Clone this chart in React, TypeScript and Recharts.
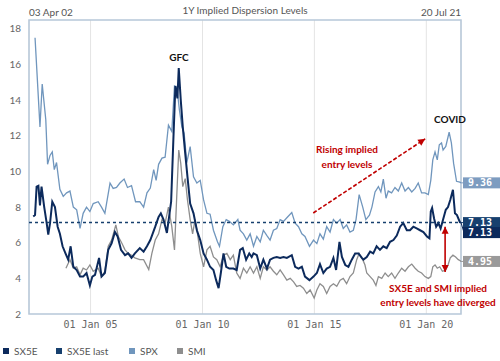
import React from 'react'
import { LineChart, Line, XAxis, YAxis, CartesianGrid, ReferenceLine, ReferenceDot, ReferenceArea } from 'recharts'

// [year, level] pairs
const sx5e: [number, number][] = [
  [2002.44, 7.47], [2002.52, 7.55], [2002.59, 9.15], [2002.67, 9.2], [2002.74, 8.1], [2002.81, 9.15], [2002.93, 8.0],
  [2003.04, 7.1], [2003.11, 6.45], [2003.19, 7.1], [2003.29, 8.3], [2003.41, 8.0], [2003.53, 6.9], [2003.63, 6.5],
  [2003.75, 5.8], [2003.88, 5.4], [2004.0, 5.05], [2004.11, 5.8], [2004.23, 4.65], [2004.38, 4.47], [2004.53, 4.1],
  [2004.67, 4.1], [2004.82, 4.3], [2004.97, 3.6], [2005.08, 4.1], [2005.2, 4.2], [2005.38, 5.15], [2005.49, 4.1],
  [2005.64, 4.3], [2005.79, 5.6], [2005.94, 5.97], [2006.09, 6.6], [2006.21, 6.35], [2006.36, 5.6], [2006.54, 5.3],
  [2006.68, 5.4], [2006.83, 5.15], [2006.98, 5.4], [2007.2, 5.7], [2007.37, 5.5], [2007.52, 5.8], [2007.67, 6.15],
  [2007.89, 6.9], [2008.04, 7.45], [2008.14, 7.65], [2008.26, 7.3], [2008.41, 6.55], [2008.53, 7.65], [2008.6, 8.3],
  [2008.7, 11.8], [2008.79, 14.8], [2008.88, 14.1], [2008.94, 15.8], [2009.03, 14.0], [2009.12, 12.5], [2009.23, 11.0],
  [2009.33, 9.7], [2009.45, 8.2], [2009.6, 7.65], [2009.75, 6.7], [2009.9, 6.15], [2010.05, 5.4], [2010.2, 5.05],
  [2010.34, 4.65], [2010.49, 4.47], [2010.61, 3.9], [2010.72, 3.45], [2010.82, 4.3], [2010.94, 5.4], [2011.06, 4.65],
  [2011.2, 4.55], [2011.38, 4.55], [2011.53, 4.47], [2011.68, 5.6], [2011.8, 5.7], [2011.95, 5.05], [2012.09, 5.4],
  [2012.2, 5.2], [2012.28, 5.4], [2012.43, 5.3], [2012.58, 4.55], [2012.72, 5.05], [2012.88, 4.55], [2013.02, 5.05],
  [2013.17, 5.15], [2013.32, 5.2], [2013.47, 5.15], [2013.62, 5.2], [2013.77, 5.15], [2013.99, 5.3], [2014.14, 4.65],
  [2014.29, 4.55], [2014.44, 4.65], [2014.58, 4.1], [2014.78, 3.9], [2014.96, 4.1], [2015.11, 4.3], [2015.25, 4.8],
  [2015.4, 4.3], [2015.55, 4.55], [2015.7, 4.65], [2015.85, 5.15], [2015.97, 4.47], [2016.12, 6.05], [2016.23, 5.2],
  [2016.38, 4.75], [2016.52, 4.65], [2016.67, 5.05], [2016.82, 5.4], [2016.97, 5.4], [2017.12, 5.15], [2017.19, 5.05],
  [2017.34, 5.2], [2017.49, 5.5], [2017.63, 5.4], [2017.78, 5.8], [2017.93, 5.6], [2018.08, 5.8], [2018.23, 5.7],
  [2018.38, 6.05], [2018.53, 6.15], [2018.68, 6.4], [2018.83, 6.9], [2018.97, 7.1], [2019.13, 6.7], [2019.27, 6.7],
  [2019.42, 6.9], [2019.57, 6.8], [2019.72, 6.7], [2019.87, 6.6], [2020.03, 6.35], [2020.14, 6.25], [2020.2, 7.75],
  [2020.26, 7.95], [2020.35, 7.35], [2020.44, 6.9], [2020.54, 7.1], [2020.64, 6.8], [2020.75, 7.3], [2020.87, 7.85],
  [2020.97, 8.0], [2021.07, 8.4], [2021.19, 8.97], [2021.28, 7.65], [2021.37, 7.55], [2021.5, 7.15], [2021.55, 7.13],
]

const spx: [number, number][] = [
  [2002.52, 17.5], [2002.74, 12.5], [2002.84, 14.9], [2003.0, 12.9], [2003.08, 10.4], [2003.19, 10.9], [2003.29, 11.1],
  [2003.38, 10.1], [2003.48, 10.5], [2003.63, 9.0], [2003.78, 8.6], [2003.93, 8.8], [2004.08, 8.9], [2004.23, 8.0],
  [2004.38, 7.85], [2004.53, 6.8], [2004.67, 7.65], [2004.82, 8.0], [2004.97, 7.75], [2005.12, 8.2], [2005.34, 8.3],
  [2005.49, 8.0], [2005.64, 7.65], [2005.87, 9.35], [2006.01, 9.05], [2006.16, 9.1], [2006.31, 9.35], [2006.5, 9.57],
  [2006.65, 9.1], [2006.83, 9.2], [2007.01, 8.3], [2007.2, 8.3], [2007.37, 8.0], [2007.52, 8.8], [2007.67, 9.07],
  [2007.82, 10.1], [2007.93, 9.5], [2008.04, 10.4], [2008.19, 10.75], [2008.33, 10.8], [2008.48, 12.6], [2008.63, 12.25],
  [2008.75, 14.8], [2008.86, 14.7], [2008.97, 13.45], [2009.08, 12.5], [2009.18, 12.15], [2009.3, 10.5], [2009.45, 11.4],
  [2009.6, 9.7], [2009.75, 9.35], [2009.9, 9.5], [2010.05, 8.4], [2010.2, 7.65], [2010.34, 7.6], [2010.49, 6.7],
  [2010.67, 6.05], [2010.76, 5.8], [2010.91, 6.9], [2011.06, 7.3], [2011.2, 7.2], [2011.38, 7.0], [2011.58, 7.3],
  [2011.68, 6.7], [2011.83, 6.5], [2011.98, 6.15], [2012.13, 6.5], [2012.28, 5.8], [2012.43, 6.35], [2012.58, 6.05],
  [2012.72, 6.7], [2012.88, 6.4], [2013.02, 6.15], [2013.17, 6.7], [2013.32, 6.8], [2013.47, 7.3], [2013.62, 7.2],
  [2013.77, 7.4], [2013.99, 7.7], [2014.14, 7.1], [2014.29, 6.9], [2014.44, 6.5], [2014.58, 6.35], [2014.78, 5.8],
  [2014.96, 6.15], [2015.11, 5.95], [2015.25, 6.5], [2015.4, 6.2], [2015.55, 6.9], [2015.7, 6.6], [2015.85, 7.3],
  [2016.0, 7.1], [2016.15, 7.3], [2016.29, 6.8], [2016.44, 7.0], [2016.59, 6.6], [2016.74, 6.7], [2016.86, 7.3],
  [2017.0, 8.7], [2017.16, 8.0], [2017.3, 7.3], [2017.46, 7.55], [2017.57, 8.0], [2017.71, 8.85], [2017.86, 9.15],
  [2017.97, 8.85], [2018.08, 9.57], [2018.2, 8.5], [2018.3, 8.9], [2018.45, 8.8], [2018.6, 9.1], [2018.75, 8.9],
  [2018.9, 9.35], [2019.05, 8.9], [2019.2, 9.1], [2019.35, 8.85], [2019.5, 9.05], [2019.64, 9.35], [2019.79, 8.8],
  [2019.94, 8.8], [2020.09, 8.7], [2020.2, 9.5], [2020.29, 10.65], [2020.39, 11.1], [2020.49, 10.65], [2020.58, 11.5],
  [2020.68, 11.6], [2020.75, 11.2], [2020.87, 11.4], [2021.02, 12.2], [2021.12, 11.6], [2021.22, 10.45], [2021.35, 9.45],
  [2021.5, 9.4], [2021.55, 9.36],
]

const smi: [number, number][] = [
  [2003.9, 4.57], [2004.08, 5.05], [2004.23, 4.57], [2004.38, 4.65], [2004.53, 4.2], [2004.67, 4.57], [2004.82, 4.47],
  [2004.97, 4.75], [2005.12, 4.4], [2005.34, 4.57], [2005.49, 4.1], [2005.64, 4.4], [2005.79, 5.8], [2005.94, 6.15],
  [2006.13, 7.0], [2006.24, 6.35], [2006.4, 5.97], [2006.54, 5.6], [2006.68, 5.4], [2006.83, 5.3], [2006.98, 5.15],
  [2007.2, 5.05], [2007.37, 5.05], [2007.6, 4.5], [2007.74, 5.4], [2007.89, 6.15], [2008.04, 6.5], [2008.19, 7.3],
  [2008.33, 7.1], [2008.48, 8.0], [2008.63, 6.9], [2008.75, 5.6], [2008.83, 8.0], [2008.94, 11.2], [2009.03, 10.45],
  [2009.12, 9.15], [2009.23, 9.6], [2009.33, 8.4], [2009.45, 7.3], [2009.56, 6.5], [2009.67, 7.3], [2009.78, 6.5],
  [2009.9, 5.4], [2010.05, 4.65], [2010.2, 5.6], [2010.34, 5.8], [2010.49, 5.2], [2010.64, 5.05], [2010.79, 4.65],
  [2010.94, 5.3], [2011.09, 5.4], [2011.24, 5.05], [2011.38, 5.3], [2011.53, 4.3], [2011.68, 4.0], [2011.83, 4.57],
  [2011.98, 4.3], [2012.13, 4.65], [2012.28, 4.3], [2012.43, 4.65], [2012.58, 4.0], [2012.72, 4.65], [2012.88, 4.47],
  [2013.02, 4.65], [2013.17, 4.4], [2013.32, 4.2], [2013.47, 4.47], [2013.62, 4.2], [2013.77, 3.9], [2013.92, 4.0],
  [2014.07, 3.8], [2014.21, 3.55], [2014.36, 3.6], [2014.51, 3.45], [2014.66, 3.15], [2014.81, 3.35], [2014.99, 2.9],
  [2015.11, 3.35], [2015.25, 3.7], [2015.4, 3.55], [2015.55, 3.15], [2015.7, 3.55], [2015.85, 3.7], [2016.0, 3.55],
  [2016.15, 3.9], [2016.29, 4.0], [2016.44, 3.7], [2016.59, 4.1], [2016.74, 4.3], [2016.89, 5.05], [2017.0, 5.4],
  [2017.16, 5.05], [2017.26, 4.75], [2017.34, 4.3], [2017.49, 4.1], [2017.63, 3.9], [2017.75, 3.6], [2017.86, 4.1],
  [2018.01, 4.0], [2018.16, 4.3], [2018.3, 4.1], [2018.45, 4.3], [2018.6, 4.0], [2018.75, 4.3], [2018.9, 4.57],
  [2019.05, 4.4], [2019.2, 4.65], [2019.35, 4.8], [2019.5, 4.57], [2019.64, 4.4], [2019.79, 4.3], [2019.94, 4.1],
  [2020.09, 4.0], [2020.2, 4.1], [2020.29, 4.65], [2020.39, 4.75], [2020.49, 4.57], [2020.6, 4.65], [2020.72, 4.4],
  [2020.87, 4.47], [2020.97, 4.75], [2021.07, 5.15], [2021.19, 5.3], [2021.31, 5.2], [2021.43, 5.05], [2021.5, 5.0],
  [2021.55, 4.95],
]

const sx5eLast = 7.13
const startYear = 2002.25 // 03 Apr 02
const endYear = 2021.55 // 20 Jul 21
const xTicks = [2005, 2010, 2015, 2020]
const yTicks = [2, 4, 6, 8, 10, 12, 14, 16, 18]

// right-hand value tags: label, value, vertical nudge, colour
const endTags: [string, number, number, string][] = [
  ['9.36', 9.36, 0, '#7d9cc0'],
  ['7.13', 7.13, 0, '#17406e'],
  ['7.13', 7.13, 10, '#0c2a5c'],
  ['4.95', 4.95, 0, '#9a9a9a'],
]

const toRows = (pts: [number, number][]) => pts.map(([t, v]) => ({ t, v }))

const C = {
  sx5e: '#0c2a5c',
  last: '#17406e',
  spx: '#7096bd',
  smi: '#8e8e8e',
  red: '#c00000',
  frame: '#b6c7d9',
}

const FONT = "Lato, 'Open Sans', sans-serif"
const MONO = "'DejaVu Sans Mono', monospace"

const fmtTick = (y: number) => `01 Jan ${String(Math.round(y) % 100).padStart(2, '0')}`

const Arrow = (props: any) => {
  const { x1, y1, x2, y2, both, dashed } = props
  const head = (tx: number, ty: number, fx: number, fy: number) => {
    const a = Math.atan2(ty - fy, tx - fx)
    const L = 7, W = 3.5
    const bx = tx - L * Math.cos(a), by = ty - L * Math.sin(a)
    const px = -Math.sin(a) * W, py = Math.cos(a) * W
    return `${tx},${ty} ${bx + px},${by + py} ${bx - px},${by - py}`
  }
  return (
    <g>
      <line x1={x1} y1={y1} x2={x2} y2={y2} stroke={C.red} strokeWidth={1.6} strokeDasharray={dashed ? '4 2' : undefined} />
      <polygon points={head(x2, y2, x1, y1)} fill={C.red} />
      {both && <polygon points={head(x1, y1, x2, y2)} fill={C.red} />}
    </g>
  )
}

const Tag = (props: any) => {
  const { cx, cy, label, dy, color } = props
  const y = cy + dy
  return (
    <g>
      <line x1={cx} y1={cy} x2={cx + 3} y2={y} stroke={color} strokeWidth={1} />
      <rect x={cx + 2} y={y - 5.5} width={500 - cx - 2} height={11} fill={color} />
      <text x={cx + 7} y={y + 3.6} fill="#fff" fontSize={10} fontWeight="bold" fontFamily={MONO}>
        {label}
      </text>
    </g>
  )
}

const txt = (style: React.CSSProperties): React.CSSProperties => ({
  position: 'absolute',
  whiteSpace: 'nowrap',
  fontFamily: FONT,
  lineHeight: 1,
  ...style,
})

// legend entries: name, colour, left offset
const legendItems: [string, string, number][] = [
  ['SX5E', C.sx5e, 3],
  ['SX5E last', C.last, 56],
  ['SPX', C.spx, 129],
  ['SMI', C.smi, 177],
]

export default function App() {
  return (
    <div style={{ position: 'absolute', left: 0, top: 0, width: 500, height: 361, background: '#fff', overflow: 'hidden' }}>
      <LineChart width={500} height={340} margin={{ top: 20, right: 39, left: 0, bottom: 0 }}>
        <CartesianGrid horizontal={false} stroke="#e4e4e4" strokeWidth={1} />
        <XAxis
          type="number"
          dataKey="t"
          domain={[startYear, endYear]}
          ticks={xTicks}
          tickFormatter={fmtTick}
          allowDataOverflow
          height={26}
          tickSize={0}
          tickMargin={7}
          axisLine={false}
          tick={{ fill: '#666', fontSize: 10, fontFamily: MONO }}
        />
        <YAxis
          type="number"
          domain={[2, 18.5]}
          ticks={yTicks}
          allowDataOverflow
          width={29}
          tickSize={0}
          tickMargin={8}
          axisLine={false}
          tick={{ fill: '#666', fontSize: 10, fontFamily: FONT }}
        />
        <ReferenceArea x1={startYear} x2={endYear} y1={2} y2={18.5} fill="none" stroke={C.frame} strokeWidth={1.5} />
        <Line data={toRows(spx)} dataKey="v" stroke={C.spx} strokeWidth={1.3} dot={false} isAnimationActive={false} />
        <Line data={toRows(smi)} dataKey="v" stroke={C.smi} strokeWidth={1.3} dot={false} isAnimationActive={false} />
        <Line data={toRows(sx5e)} dataKey="v" stroke={C.sx5e} strokeWidth={2} dot={false} isAnimationActive={false} />
        <ReferenceLine y={sx5eLast} stroke={C.last} strokeWidth={1.5} strokeDasharray="3 3" />
        <ReferenceLine
          segment={[{ x: 2014.95, y: 7.67 }, { x: 2019.95, y: 11.83 }]}
          shape={(p: any) => <Arrow {...p} dashed />}
        />
        <ReferenceLine
          segment={[{ x: 2020.84, y: 6.9 }, { x: 2020.84, y: 4.36 }]}
          shape={(p: any) => <Arrow {...p} both />}
        />
        {endTags.map(([label, v, dy, color], i) => (
          <ReferenceDot
            key={i}
            x={endYear}
            y={v}
            r={0}
            shape={(p: any) => <Tag {...p} label={label} dy={dy} color={color} />}
          />
        ))}
      </LineChart>

      <div style={txt({ left: 29, top: 7, fontSize: 10, color: '#555' })}>03 Apr 02</div>
      <div style={txt({ left: 245, top: 5, fontSize: 10, color: '#555', transform: 'translateX(-50%)' })}>
        1Y Implied Dispersion Levels
      </div>
      <div style={txt({ left: 461, top: 7, fontSize: 10, color: '#555', transform: 'translateX(-100%)' })}>20 Jul 21</div>

      <div style={txt({ left: 179, top: 52, fontSize: 10, fontWeight: 'bold', color: '#111', transform: 'translateX(-50%)' })}>GFC</div>
      <div style={txt({ left: 450, top: 114, fontSize: 10, fontWeight: 'bold', color: '#111', transform: 'translateX(-50%)' })}>COVID</div>
      <div style={txt({ left: 347, top: 142, fontSize: 10, fontWeight: 'bold', color: C.red, textAlign: 'center', lineHeight: '15px', transform: 'translateX(-50%)' })}>
        Rising implied<br />entry levels
      </div>
      <div style={txt({ left: 438, top: 281, fontSize: 10, fontWeight: 'bold', color: C.red, textAlign: 'center', lineHeight: '14px', transform: 'translateX(-50%)' })}>
        SX5E and SMI implied<br />entry levels have diverged
      </div>

      {legendItems.map(([name, color, left]) => (
        <div key={name} style={txt({ left, top: 346, fontSize: 10, color: '#555', display: 'flex', alignItems: 'center' })}>
          <span style={{ width: 6, height: 6, background: color, display: 'inline-block', marginRight: 5 }} />
          <span>{name}</span>
        </div>
      ))}
    </div>
  )
}
